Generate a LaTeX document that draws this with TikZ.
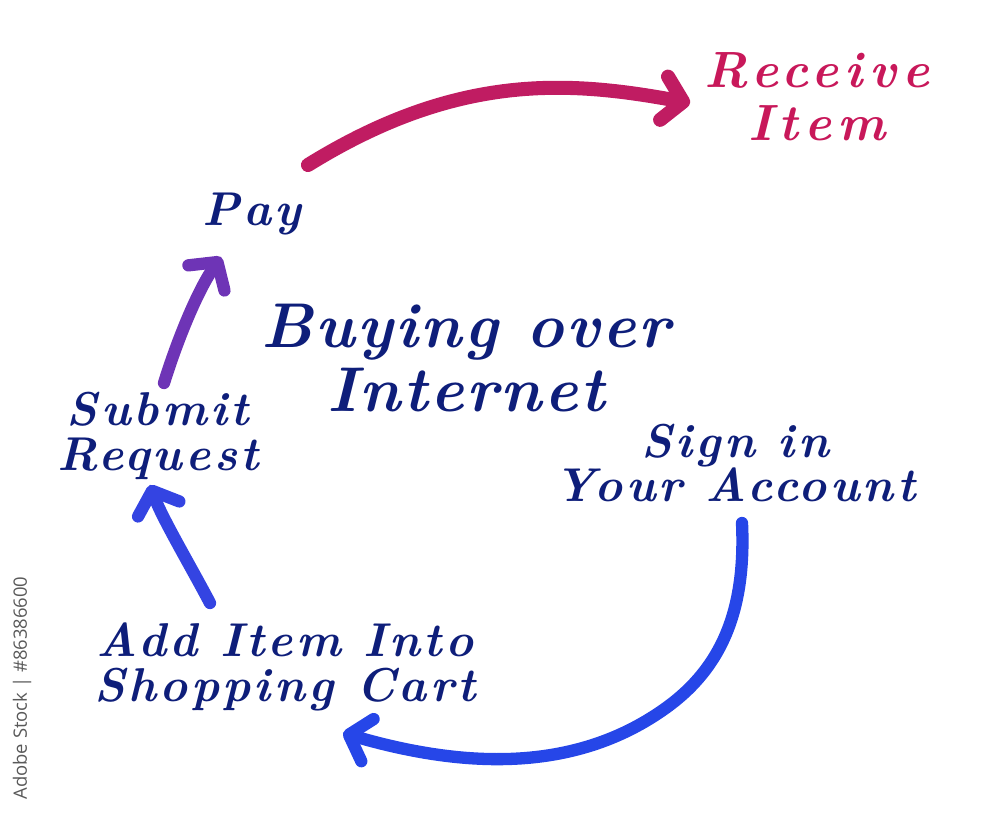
\documentclass[tikz,border=0pt]{standalone}
\usepackage{fontspec}
\usepackage{tikz}
\usetikzlibrary{arrows.meta}
\newfontfamily\marcafont{Open Sans}
\newfontfamily\manofont[LetterSpace=7]{Latin Modern Roman}
\newfontfamily\titulofont[LetterSpace=4]{Latin Modern Roman}
\newfontfamily\rosafont[LetterSpace=12]{Latin Modern Roman}
\definecolor{tinta}{RGB}{14,30,122}
\definecolor{rosa}{RGB}{200,24,90}
\definecolor{flecharosa}{RGB}{192,28,98}
\definecolor{morado}{RGB}{110,52,182}
\definecolor{azul}{RGB}{52,68,226}
\definecolor{azulfuerte}{RGB}{38,70,232}

\begin{document}
\begin{tikzpicture}[x=0.02cm, y=-0.02cm,
        etiqueta/.style={text=tinta, align=center, inner sep=0pt,
            font=\manofont\bfseries\itshape\fontsize{27}{25.5}\selectfont},
        titulo/.style={etiqueta,
            font=\titulofont\bfseries\itshape\fontsize{36}{36}\selectfont},
        flecha/.style={line width=7pt, line cap=round,
            -{Straight Barb[round, length=11pt, width=25pt]}}]
        \useasboundingbox (0,0) rectangle (1000,814);

        \node[titulo] (buy) at (466,358) {Buying over\\Internet};
        \node[etiqueta] (pay) at (252,214) {Pay};
        \node[etiqueta, text=rosa, font=\rosafont\bfseries\itshape\fontsize{29}{30}\selectfont]
            (recv) at (817,97) {Receive\\Item};
        \node[etiqueta] (sign) at (735,463) {Sign in\\Your Account};
        \node[etiqueta] (submit) at (158,436) {Submit\\Request};
        \node[etiqueta] (cart) at (285,667) {Add Item Into\\Shopping Cart};

        % pasos del ciclo
        \draw[flecha, flecharosa, line width=8pt] ([shift={(56,-49)}]pay.center)
            .. controls (458,72) and (570,81) .. ([shift={(-127,6)}]recv.center);
        \draw[flecha, morado] ([shift={(6,-53)}]submit.center)
            .. controls (178,338) and (198,290) .. ([shift={(-31,43)}]pay.center);
        \draw[flecha, azul] ([shift={(-75,-64)}]cart.center)
            .. controls (190,565) and (162,518) .. ([shift={(-8,49)}]submit.center);
        \draw[flecha, azulfuerte] ([shift={(7,60)}]sign.center)
            .. controls (746,610) and (722,669) .. (663,710)
            .. controls (573,773) and (463,768) .. ([shift={(58,66)}]cart.center);

        \node[rotate=90, text=black!65, font=\marcafont\fontsize{10.5}{12}\selectfont]
            (marca) at (22,688) {Adobe Stock | \#86386600};
    \end{tikzpicture}
\end{document}
